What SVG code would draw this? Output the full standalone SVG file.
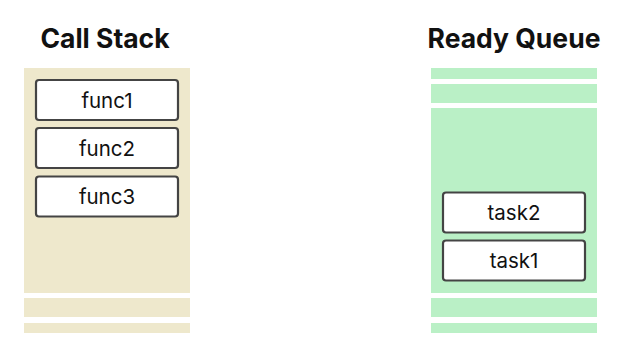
<svg xmlns="http://www.w3.org/2000/svg" width="626" height="357" viewBox="0 0 626 357">
<style>
.title{font-family:Inter,"Liberation Sans",sans-serif;font-size:26.5px;font-weight:700;fill:#111;text-anchor:middle}
.lbl{font-family:Inter,"Liberation Sans",sans-serif;font-size:20.5px;fill:#111;text-anchor:middle}
.box{fill:#fff;stroke:#444;stroke-width:2.2}
.cs{fill:#EEE8CC}
.rq{fill:#BAF0C6}
</style>
<rect width="626" height="357" fill="#fff"/>
<g id="call-stack">
<text class="title" x="105" y="47.5">Call Stack</text>
<rect class="cs" x="24" y="68" width="166" height="225"/>
<rect class="cs" x="24" y="298" width="166" height="19"/>
<rect class="cs" x="24" y="323" width="166" height="10"/>
</g>
<g id="func1"><rect class="box" x="36" y="80" width="142" height="40" rx="3"/><text class="lbl" x="107" y="107.5">func1</text></g>
<g id="func2"><rect class="box" x="36" y="128" width="142" height="40" rx="3"/><text class="lbl" x="107" y="155.5">func2</text></g>
<g id="func3"><rect class="box" x="36" y="176.5" width="142" height="40" rx="3"/><text class="lbl" x="107" y="204">func3</text></g>
<g id="ready-queue">
<text class="title" x="514" y="47.5">Ready Queue</text>
<rect class="rq" x="431" y="68" width="166" height="11"/>
<rect class="rq" x="431" y="84" width="166" height="19"/>
<rect class="rq" x="431" y="108" width="166" height="185"/>
<rect class="rq" x="431" y="298" width="166" height="19"/>
<rect class="rq" x="431" y="323" width="166" height="10"/>
</g>
<g id="task2"><rect class="box" x="443" y="192.5" width="142" height="40" rx="3"/><text class="lbl" x="514" y="220">task2</text></g>
<g id="task1"><rect class="box" x="443" y="240.5" width="142" height="40" rx="3"/><text class="lbl" x="514" y="268">task1</text></g>
<g id="connectors"/>
</svg>
